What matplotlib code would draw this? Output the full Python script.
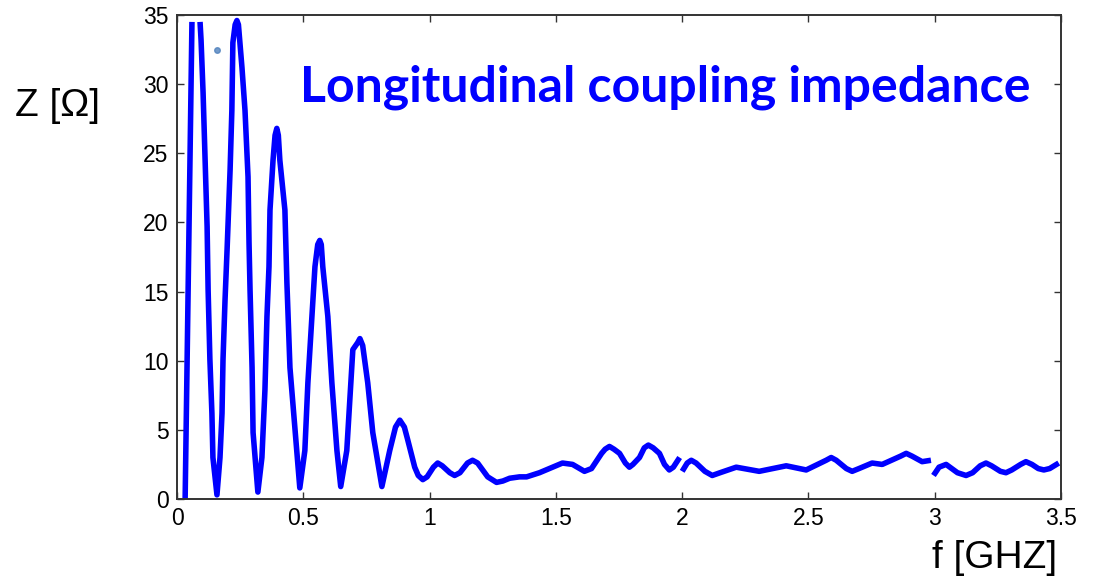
import matplotlib.pyplot as plt
import numpy as np

# readings, f in GHz, Z in ohm (nan = break in the trace)
f_ghz = [0.032, 0.059, np.nan,
         0.091, 0.095, 0.103, 0.111, 0.119, 0.123, 0.130, 0.138, 0.142, 0.158,
         0.170, 0.178, 0.182, 0.190, 0.198, 0.210, 0.217, 0.221, 0.230, 0.237,
         0.243, 0.249, 0.257, 0.269, 0.281, 0.285, 0.289, 0.297, 0.301, 0.320,
         0.336, 0.348, 0.356, 0.364, 0.368, 0.380, 0.388, 0.395, 0.401,
         0.407, 0.427, 0.435, 0.447, 0.463, 0.486,
         0.506, 0.518, 0.534, 0.546, 0.557, 0.565, 0.571,
         0.577, 0.597, 0.613, 0.633, 0.648,
         0.672, 0.684, 0.696, 0.715, 0.724, 0.735,
         0.755, 0.775, 0.811, 0.842, 0.865, 0.882, 0.900, 0.913, 0.941,
         0.955, 0.973, 0.990,
         1.015, 1.032, 1.050, 1.080, 1.099, 1.120, 1.150, 1.170, 1.190,
         1.230, 1.265, 1.290, 1.317, 1.356, 1.384, 1.435,
         1.487, 1.526, 1.566, 1.613, 1.641, 1.681, 1.695, 1.712, 1.730,
         1.752, 1.775, 1.791, 1.805,
         1.831, 1.850, 1.866, 1.885, 1.910, 1.930, 1.949, 1.965, 1.990, np.nan,
         2.000, 2.020, 2.036, 2.055, 2.090, 2.119, 2.150, 2.214, 2.305, 2.412,
         2.491, 2.570, 2.590, 2.610, 2.650, 2.673, 2.700,
         2.752, 2.792, 2.865, 2.887, 2.910, 2.950, 2.985, np.nan,
         2.995, 3.017, 3.045, 3.090, 3.124, 3.150, 3.180, 3.203, 3.225,
         3.260, 3.282, 3.305, 3.340, 3.361, 3.385, 3.410, 3.432, 3.455, 3.491]
z_ohm = [0.0, 34.5, np.nan,
         34.5, 33.2, 29.4, 24.5, 19.7, 15.1, 10.1, 6.2, 3.0, 0.3,
         3.0, 6.2, 10.1, 14.4, 18.0, 23.8, 28.1, 33.0, 34.3, 34.6,
         34.3, 33.0, 31.2, 28.1, 23.3, 18.5, 15.1, 9.5, 4.8, 0.5,
         3.0, 7.9, 13.2, 16.8, 20.9, 24.5, 26.3, 26.8, 26.3,
         24.5, 20.9, 15.6, 9.5, 5.9, 0.8,
         3.5, 8.4, 13.2, 16.8, 18.4, 18.7, 18.4,
         16.8, 13.2, 8.4, 3.5, 0.9,
         3.5, 7.2, 10.8, 11.3, 11.6, 11.1,
         8.4, 4.8, 0.9, 3.5, 5.2, 5.7, 5.2, 4.3, 2.3,
         1.7, 1.4, 1.6,
         2.3, 2.6, 2.4, 1.9, 1.7, 1.9, 2.6, 2.8, 2.6,
         1.6, 1.2, 1.3, 1.5, 1.6, 1.6, 1.9,
         2.3, 2.6, 2.5, 2.0, 2.2, 3.3, 3.6, 3.8, 3.6,
         3.3, 2.6, 2.3, 2.5,
         3.0, 3.7, 3.9, 3.7, 3.3, 2.5, 2.1, 2.3, 3.0, np.nan,
         2.0, 2.6, 2.8, 2.6, 2.0, 1.7, 1.9, 2.3, 2.0, 2.4,
         2.1, 2.8, 3.0, 2.8, 2.2, 2.0, 2.2,
         2.6, 2.5, 3.1, 3.3, 3.1, 2.7, 2.8, np.nan,
         1.7, 2.3, 2.5, 1.9, 1.7, 1.9, 2.4, 2.6, 2.4,
         2.0, 1.9, 2.1, 2.5, 2.7, 2.5, 2.2, 2.1, 2.2, 2.6]

x_ticks = [0, 0.5, 1, 1.5, 2, 2.5, 3, 3.5]
x_labels = ['0', '0.5', '1', '1.5', '2', '2.5', '3', '3.5']
y_ticks = [0, 5, 10, 15, 20, 25, 30, 35]

# stray mark in the original picture
blob_f, blob_z = 0.158, 32.5

fig = plt.figure(figsize=(10.97, 5.77), dpi=100)
ax = fig.add_axes([0.1614, 0.1352, 0.8058, 0.8388])

ax.plot(f_ghz, z_ohm, color='#0000ff', lw=4, solid_capstyle='butt',
        solid_joinstyle='round')
ax.plot([blob_f], [blob_z], 'o', color='#4f81bd', ms=4, alpha=0.8)

ax.set_xlim(0, 3.5)
ax.set_ylim(0, 35)
ax.set_xticks(x_ticks)
ax.set_xticklabels(x_labels)
ax.set_yticks(y_ticks)
ax.tick_params(direction='in', top=True, right=True, length=5, width=1,
               color='#333333', labelsize=16.5, pad=6)
for lab in ax.get_xticklabels() + ax.get_yticklabels():
    lab.set_family('Liberation Sans')
for s in ax.spines.values():
    s.set_color('#333333')
    s.set_linewidth(1.4)

fig.text(15 / 1097, 1 - 116 / 577, 'Z [\u03a9]', fontsize=28,
         family='Liberation Sans', va='baseline', ha='left')
fig.text(1057 / 1097, 1 - 568 / 577, 'f [GHZ]', fontsize=28,
         family='Liberation Sans', va='baseline', ha='right')
fig.text(300 / 1097, 1 - 101 / 577, 'Longitudinal coupling impedance',
         fontsize=36, family='Lato', weight='bold', color='#0000ff',
         va='baseline', ha='left')

plt.savefig('out.png', dpi=100)
